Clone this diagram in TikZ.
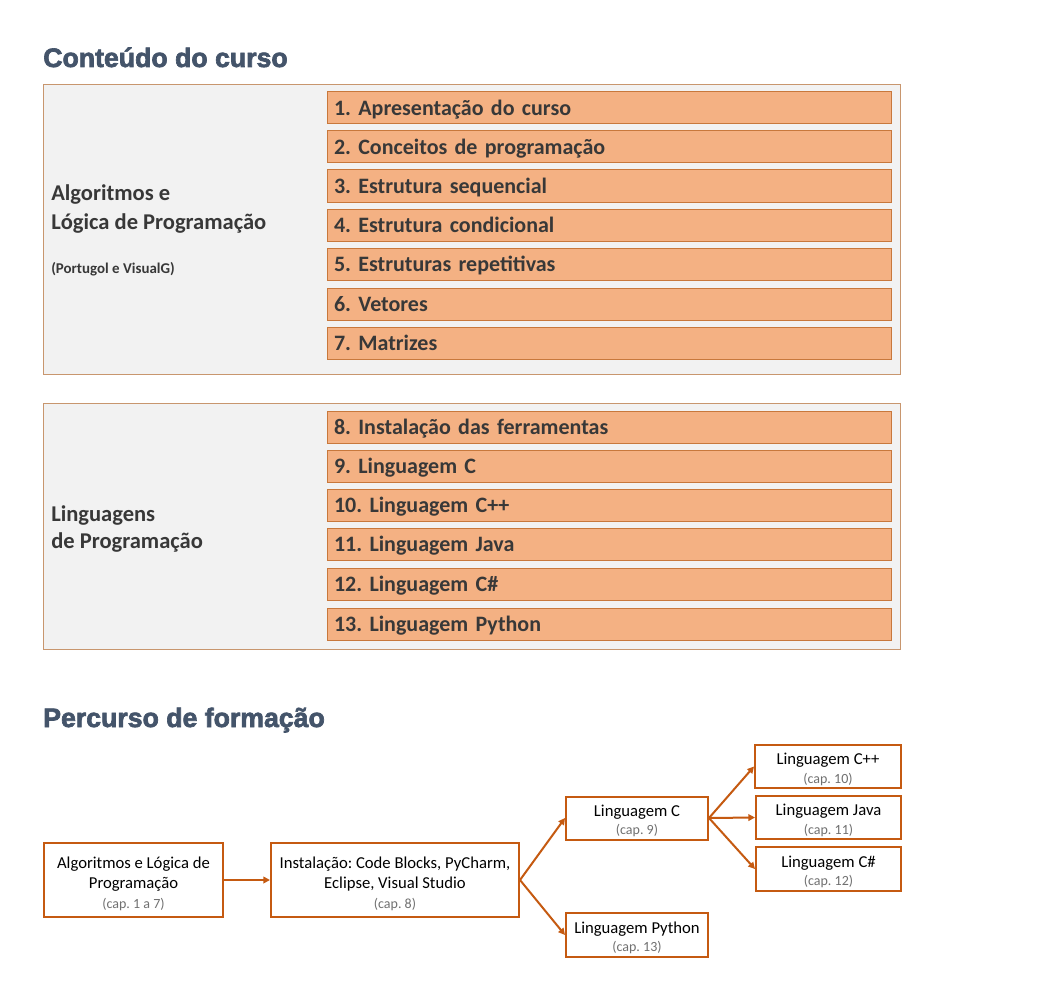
\documentclass[tikz,border=0pt]{standalone}
\usepackage{fontspec}
\setmainfont{Carlito}
\newfontfamily\titlefont[BoldFeatures={FakeBold=2.5}]{Liberation Sans}
\usetikzlibrary{arrows.meta}
\definecolor{titleblue}{HTML}{44546A}
\definecolor{panelfill}{HTML}{F2F2F2}
\definecolor{panelline}{RGB}{200,150,110}
\definecolor{itemfill}{HTML}{F4B183}
\definecolor{itemline}{RGB}{200,120,60}
\definecolor{textgray}{HTML}{383838}
\definecolor{flowline}{HTML}{C55A11}
\definecolor{capgray}{HTML}{707070}
\newcommand{\capf}{\color{capgray}\fontsize{10.5}{12.75}\selectfont}
\newcommand{\bigstrut}{\rule{0pt}{15pt}}
\newcommand{\smallstrut}{\rule{0pt}{13pt}}
\tikzset{
  title/.style={anchor=base west, inner sep=0, text=titleblue,
    font=\titlefont\bfseries\fontsize{20}{22}\selectfont},
  panel/.style={draw=panelline, fill=panelfill, line width=0.75pt, inner sep=0,
    anchor=north west, minimum width=857*0.75pt},
  item/.style={draw=itemline, fill=itemfill, line width=0.75pt,
    minimum width=564*0.75pt, minimum height=32*0.75pt,
    text width=550*0.75pt, inner xsep=7*0.75pt, inner ysep=0, align=left,
    text height=13.9pt, text depth=3pt, text=textgray,
    font=\frenchspacing\bfseries\fontsize{16.5}{19}\selectfont},
  lab/.style={anchor=base west, inner sep=0, text=textgray,
    font=\bfseries\fontsize{16.9}{19}\selectfont},
  smalllab/.style={anchor=base west, inner sep=0, text=textgray,
    font=\bfseries\fontsize{11.2}{12}\selectfont},
  flowbox/.style={draw=flowline, line width=1.5pt, fill=white, align=center,
    inner sep=0, text=black, font=\frenchspacing\fontsize{12.5}{15}\selectfont},
  smallbox/.style={flowbox, font=\frenchspacing\fontsize{12.5}{14}\selectfont},
  arr/.style={draw=flowline, line width=1.5pt,
    -{Triangle[length=5pt,width=5pt]}}
}
\begin{document}
\begin{tikzpicture}[x=0.75pt,y=-0.75pt]
\useasboundingbox (0,0) rectangle (1038,995);
\fill[white] (0,0) rectangle (1038,995);

% Title 1
\node[title] (t1) at (43,67) {Conteúdo do curso};

% Panel 1
\node[panel, minimum height=290*0.75pt] (p1) at (43,84) {};
\node[lab] (l1a) at (51,200) {Algoritmos e};
\node[lab] (l1b) at (51,229) {Lógica de Programação};
\node[smalllab] (l1c) at (51,273) {(Portugol e VisualG)};
\foreach \n/\yy/\t in {1/108/{1. Apresentação do curso},
  2/147/{2. Conceitos de programação},
  3/186/{3. Estrutura sequencial},
  4/225/{4. Estrutura condicional},
  5/264/{5. Estruturas repetitivas},
  6/304/{6. Vetores},
  7/343.5/{7. Matrizes}}
  \node[item] (i\n) at (609,\yy) {\t};

% Panel 2
\node[panel, minimum height=246*0.75pt] (p2) at (43,403) {};
\node[lab] (l2a) at (51,521) {Linguagens};
\node[lab] (l2b) at (51,548) {de Programação};
\foreach \n/\yy/\t in {8/427/{8. Instalação das ferramentas},
  9/466/{9. Linguagem C},
  10/505/{10. Linguagem C++},
  11/544.5/{11. Linguagem Java},
  12/584/{12. Linguagem C\#},
  13/624/{13. Linguagem Python}}
  \node[item] (i\n) at (609,\yy) {\t};

% Title 2
\node[title] (t2) at (43,727) {Percurso de formação};

% Flowchart
\node[flowbox, minimum width=179*0.75pt, minimum height=74*0.75pt] (alg) at (133.5,880)
  {\bigstrut Algoritmos e Lógica de\\Programação\\{\capf (cap. 1 a 7)}};
\node[flowbox, minimum width=248*0.75pt, minimum height=74*0.75pt] (inst) at (395,880)
  {\bigstrut Instalação: Code Blocks, PyCharm,\\Eclipse, Visual Studio\\{\capf (cap. 8)}};
\node[smallbox, minimum width=142*0.75pt, minimum height=43*0.75pt] (lc) at (637,818)
  {\smallstrut Linguagem C\\{\capf (cap. 9)}};
\node[smallbox, minimum width=142*0.75pt, minimum height=44*0.75pt] (lpy) at (637,935)
  {\smallstrut Linguagem Python\\{\capf (cap. 13)}};
\node[smallbox, minimum width=146*0.75pt, minimum height=43*0.75pt] (lcpp) at (828,766.5)
  {\smallstrut Linguagem C++\\{\capf (cap. 10)}};
\node[smallbox, minimum width=145*0.75pt, minimum height=43*0.75pt] (ljava) at (828.5,817.5)
  {\smallstrut Linguagem Java\\{\capf (cap. 11)}};
\node[smallbox, minimum width=145*0.75pt, minimum height=44*0.75pt] (lcs) at (828.5,869)
  {\smallstrut Linguagem C\#\\{\capf (cap. 12)}};

\draw[arr] (alg) -- (inst);
\draw[arr] (inst.east) -- (lc.west);
\draw[arr] (inst.east) -- (lpy.west);
\draw[arr] (lc.east) -- (lcpp.west);
\draw[arr] (lc.east) -- (ljava.west);
\draw[arr] (lc.east) -- (lcs.west);
\end{tikzpicture}
\end{document}
